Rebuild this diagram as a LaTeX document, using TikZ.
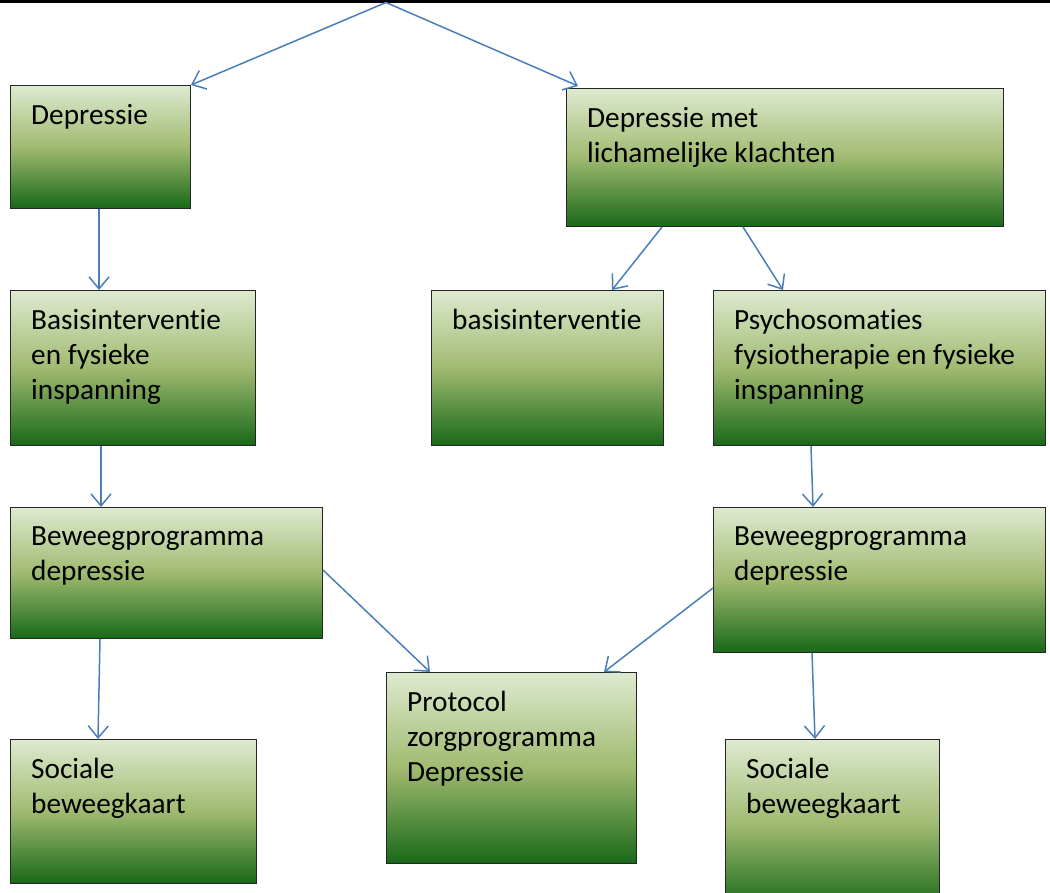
\documentclass[tikz,border=0pt]{standalone}
\usepackage{fontspec}
\setmainfont[Ligatures=NoCommon]{Carlito}
\usetikzlibrary{arrows.meta,calc}
\definecolor{gtop}{RGB}{222,234,208}
\definecolor{gmid}{RGB}{160,186,112}
\definecolor{gbot}{RGB}{24,104,24}
\definecolor{arr}{RGB}{74,126,187}
\tikzset{
  box/.style={draw=black!85, line width=1pt, anchor=north west, inner sep=0pt,
    top color=gtop, bottom color=gbot, middle color=gmid},
  lbl/.style={anchor=north west, inner sep=0pt, align=left,
    font=\fontsize{29.3}{35}\selectfont},
  con/.style={draw=arr, line width=1.5pt, -{Straight Barb[length=12pt,width=20pt,line width=1.5pt]}},
}
\begin{document}
\begin{tikzpicture}[x=1pt,y=-1pt]
\useasboundingbox (0,0) rectangle (1050,892);
% top box (cut off)
\node[draw=black, line width=2.5pt, fill=gtop, anchor=south west, minimum width=1060pt, minimum height=30pt, inner sep=0pt] (top) at (-5,2.5) {};
\coordinate (src) at (386,2.5);
% boxes
\node[box, minimum width=180pt, minimum height=123pt] (dep) at (10,85) {};
\node[box, minimum width=437pt, minimum height=138pt] (deplk) at (566,88) {};
\node[box, minimum width=245pt, minimum height=155pt] (basfys) at (10,290) {};
\node[box, minimum width=232pt, minimum height=155pt] (bas) at (431,290) {};
\node[box, minimum width=332pt, minimum height=155pt] (psy) at (713,290) {};
\node[box, minimum width=312pt, minimum height=131pt] (bewl) at (10,507) {};
\node[box, minimum width=332pt, minimum height=145pt] (bewr) at (713,507) {};
\node[box, minimum width=250pt, minimum height=191pt] (prot) at (386,672) {};
\node[box, minimum width=246pt, minimum height=144pt] (socl) at (10,739) {};
\node[box, minimum width=214pt, minimum height=170pt] (socr) at (725,739) {};
% labels
\node[lbl] (tdep) at ($(dep.north west)+(21,19)$) {Depressie};
\node[lbl] (tdeplk) at ($(deplk.north west)+(21,19)$) {Depressie met\\lichamelijke klachten};
\node[lbl] (tbasfys) at ($(basfys.north west)+(21,19)$) {Basisinterventie\\en fysieke\\inspanning};
\node[lbl] (tbas) at ($(bas.north west)+(21,19)$) {basisinterventie};
\node[lbl] (tpsy) at ($(psy.north west)+(21,19)$) {Psychosomaties\\fysiotherapie en fysieke\\inspanning};
\node[lbl] (tbewl) at ($(bewl.north west)+(21,19)$) {Beweegprogramma\\depressie};
\node[lbl] (tbewr) at ($(bewr.north west)+(21,19)$) {Beweegprogramma\\depressie};
\node[lbl] (tprot) at ($(prot.north west)+(21,19)$) {Protocol\\zorgprogramma\\Depressie};
\node[lbl] (tsocl) at ($(socl.north west)+(21,19)$) {Sociale\\beweegkaart};
\node[lbl] (tsocr) at ($(socr.north west)+(21,19)$) {Sociale\\beweegkaart};
% connectors
\draw[con] (src) -- (dep.north east);
\draw[con] (src) -- ($(deplk.north west)+(12,-2)$);
\draw[con] ($(dep.south west)+(89,0)$) -- ($(basfys.north west)+(89,0)$);
\draw[con] ($(deplk.south west)+(96,0)$) -- ($(bas.north west)+(181,0)$);
\draw[con] ($(deplk.south west)+(177,0)$) -- ($(psy.north west)+(70,0)$);
\draw[con] ($(basfys.south west)+(91,0)$) -- ($(bewl.north west)+(91,0)$);
\draw[con] ($(psy.south west)+(98,0)$) -- ($(bewr.north west)+(100,0)$);
\draw[con] ($(bewl.south west)+(90,0)$) -- ($(socl.north west)+(88,0)$);
\draw[con] ($(bewl.north east)+(0,63)$) -- ($(prot.north west)+(44,0)$);
\draw[con] ($(bewr.north west)+(0,81)$) -- ($(prot.north west)+(218,0)$);
\draw[con] ($(bewr.south west)+(99,0)$) -- ($(socr.north west)+(90,0)$);
\end{tikzpicture}
\end{document}
